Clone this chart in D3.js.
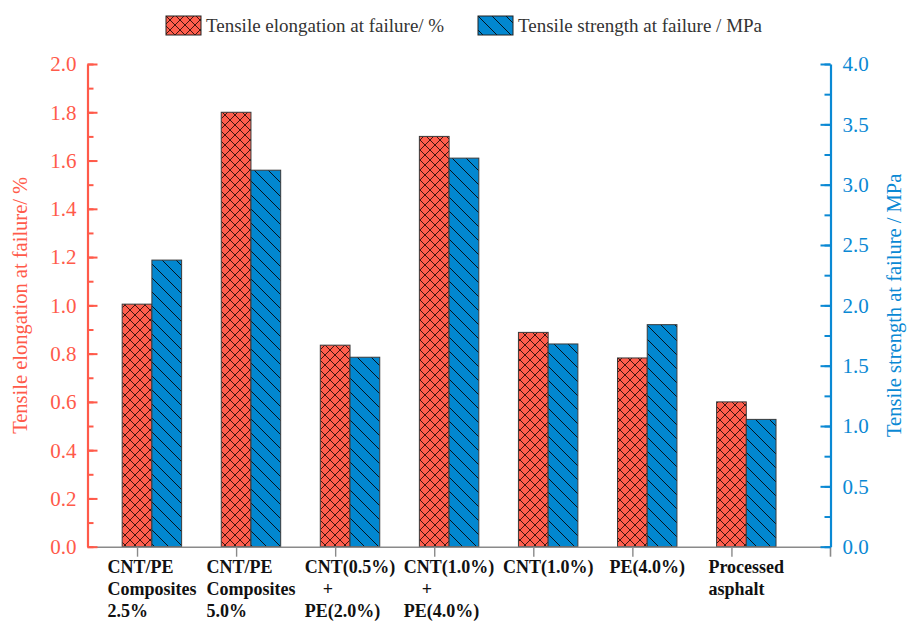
<!DOCTYPE html>
<html>
<head>
<meta charset="utf-8">
<script src="https://cdn.jsdelivr.net/npm/d3@7"></script>
<style>
  body { margin: 0; background: #ffffff; }
  svg text { font-family: "Liberation Serif", "Times New Roman", "DejaVu Serif", serif; }
</style>
</head>
<body>
<svg id="chart" width="907" height="621" font-family="Liberation Serif, Times New Roman, serif"></svg>
<script>
// ---- data ----
const categories = ["CNT/PE 2.5%", "CNT/PE 5.0%", "CNT(0.5%)+PE(2.0%)", "CNT(1.0%)+PE(4.0%)", "CNT(1.0%)", "PE(4.0%)", "Processed asphalt"];
const categoryLabelLines = [
  ["CNT/PE", "Composites", "2.5%"],
  ["CNT/PE", "Composites", "5.0%"],
  ["CNT(0.5%)", "    +", "PE(2.0%)"],
  ["CNT(1.0%)", "    +", "PE(4.0%)"],
  ["CNT(1.0%)"],
  ["PE(4.0%)"],
  ["Processed", "asphalt"]
];
const elongation = [1.005, 1.80, 0.835, 1.70, 0.888, 0.782, 0.60];   // %
const strength   = [2.375, 3.12, 1.57, 3.22, 1.68, 1.84, 1.055];     // MPa
const leftTicks  = [0.0, 0.2, 0.4, 0.6, 0.8, 1.0, 1.2, 1.4, 1.6, 1.8, 2.0];
const rightTicks = [0.0, 0.5, 1.0, 1.5, 2.0, 2.5, 3.0, 3.5, 4.0];
const seriesNames = ["Tensile elongation at failure/ %", "Tensile strength at failure / MPa"];

// ---- styling ----
const FONT = '"Liberation Serif", "Times New Roman", serif';
const RED = "#FF5E4D", RED_AXIS = "#FF5A4A";
const BLUE = "#0287D0", BLUE_AXIS = "#0A89D4";
const GREY = "#8a8a8a";

const svg = d3.select("#chart");
const W = 907, H = 621;
const m = { left: 87.5, right: W - 830.5, top: 64, bottom: H - 546.7 };

// category positions are 1..n; the red bar is centred on the tick, blue sits to its right
const x = d3.scaleLinear().domain([0.5, categories.length + 1]).range([m.left, W - m.right]);
const yL = d3.scaleLinear().domain([0, 2]).range([H - m.bottom, m.top]);
const yR = d3.scaleLinear().domain([0, 4]).range([H - m.bottom, m.top]);
const barW = 0.3; // in category units

// ---- hatch patterns ----
const defs = svg.append("defs");
const cross = defs.append("pattern").attr("id", "crossHatch")
  .attr("patternUnits", "userSpaceOnUse").attr("width", 10).attr("height", 10);
cross.append("rect").attr("width", 10).attr("height", 10).attr("fill", RED);
cross.append("path").attr("d", "M0,0 L10,10 M10,0 L0,10 M-1,9 L1,11 M9,-1 L11,1 M-1,1 L1,-1 M9,11 L11,9")
  .attr("stroke", "#2a0d08").attr("stroke-width", 0.9);
const diag = defs.append("pattern").attr("id", "diagHatch")
  .attr("patternUnits", "userSpaceOnUse").attr("width", 14).attr("height", 14);
diag.append("rect").attr("width", 14).attr("height", 14).attr("fill", BLUE);
diag.append("path").attr("d", "M0,0 L14,14 M-2,12 L2,16 M12,-2 L16,2")
  .attr("stroke", "#06121c").attr("stroke-width", 1);

// ---- bars ----
const idx = d3.range(categories.length);
svg.append("g").selectAll("rect").data(idx).join("rect")
  .attr("x", i => x(i + 1 - barW / 2))
  .attr("width", i => x(i + 1 + barW / 2) - x(i + 1 - barW / 2))
  .attr("y", i => yL(elongation[i]))
  .attr("height", i => yL(0) - yL(elongation[i]))
  .attr("fill", "url(#crossHatch)")
  .attr("stroke", "#3a3a3a").attr("stroke-width", 1);
svg.append("g").selectAll("rect").data(idx).join("rect")
  .attr("x", i => x(i + 1 + barW / 2))
  .attr("width", i => x(i + 1 + 1.5 * barW) - x(i + 1 + barW / 2))
  .attr("y", i => yR(strength[i]))
  .attr("height", i => yR(0) - yR(strength[i]))
  .attr("fill", "url(#diagHatch)")
  .attr("stroke", "#3a3a3a").attr("stroke-width", 1);

// ---- bottom axis ----
const xAxis = svg.append("g").attr("transform", `translate(0,${yL(0)})`)
  .call(d3.axisBottom(x).tickValues(d3.range(1, categories.length + 1)).tickFormat("").tickSize(10).tickSizeOuter(0));
xAxis.select(".domain").attr("stroke", GREY).attr("stroke-width", 1.6);
xAxis.selectAll(".tick line").attr("stroke", GREY).attr("stroke-width", 1.4);
// closing tick at the right end of the axis
xAxis.append("line").attr("x1", x.range()[1]).attr("x2", x.range()[1]).attr("y1", 0).attr("y2", 10)
  .attr("stroke", GREY).attr("stroke-width", 1.6);

// category labels: left-aligned lines, block centred between the two bars
const labelG = svg.append("g").attr("font-weight", "bold").attr("font-size", 18).attr("fill", "#111");
categoryLabelLines.forEach((lines, i) => {
  const g = labelG.append("g");
  const t = g.selectAll("text").data(lines).join("text")
    .attr("y", (d, k) => yL(0) + 26 + k * 22)
    .style("white-space", "pre")
    .style("font-family", FONT)
    .text(d => d);
  let maxW = 0;
  t.each(function () { maxW = Math.max(maxW, this.getComputedTextLength()); });
  g.attr("transform", `translate(${x(i + 1 + barW / 2) - maxW / 2},0)`);
});

// ---- left axis ----
const gl = svg.append("g").attr("transform", `translate(${x.range()[0]},0)`);
gl.call(d3.axisRight(yL).tickValues(d3.range(0, 2.0001, 0.1)).tickSize(6).tickFormat("").tickSizeOuter(0));
gl.call(g => g.selectAll(".tick line").attr("stroke", RED_AXIS).attr("stroke-width", 2));
gl.call(g => g.select(".domain").attr("stroke", RED_AXIS).attr("stroke-width", 2.2));
const glMajor = svg.append("g").attr("transform", `translate(${x.range()[0]},0)`)
  .call(d3.axisRight(yL).tickValues(leftTicks).tickSize(10).tickFormat("").tickSizeOuter(0));
glMajor.select(".domain").remove();
glMajor.selectAll(".tick line").attr("stroke", RED_AXIS).attr("stroke-width", 2);
svg.append("g").selectAll("text").data(leftTicks).join("text")
  .attr("x", x.range()[0] - 11).attr("y", d => yL(d)).attr("dy", "0.35em")
  .attr("text-anchor", "end").attr("font-size", 21).attr("fill", RED_AXIS)
  .style("font-family", FONT)
  .text(d => d3.format(".1f")(d));
svg.append("text")
  .attr("transform", `translate(27,${(yL(0) + yL(2)) / 2}) rotate(-90)`)
  .attr("text-anchor", "middle").attr("font-size", 20.5).attr("fill", RED_AXIS)
  .style("font-family", FONT)
  .text(seriesNames[0]);

// ---- right axis ----
const gr = svg.append("g").attr("transform", `translate(${x.range()[1]},0)`);
gr.call(d3.axisLeft(yR).tickValues(d3.range(0, 4.0001, 0.25)).tickSize(6).tickFormat("").tickSizeOuter(0));
gr.call(g => g.selectAll(".tick line").attr("stroke", BLUE_AXIS).attr("stroke-width", 2));
gr.call(g => g.select(".domain").attr("stroke", BLUE_AXIS).attr("stroke-width", 2.2));
const grMajor = svg.append("g").attr("transform", `translate(${x.range()[1]},0)`)
  .call(d3.axisLeft(yR).tickValues(rightTicks).tickSize(10).tickFormat("").tickSizeOuter(0));
grMajor.select(".domain").remove();
grMajor.selectAll(".tick line").attr("stroke", BLUE_AXIS).attr("stroke-width", 2);
svg.append("g").selectAll("text").data(rightTicks).join("text")
  .attr("x", x.range()[1] + 12).attr("y", d => yR(d)).attr("dy", "0.35em")
  .attr("text-anchor", "start").attr("font-size", 21).attr("fill", BLUE_AXIS)
  .style("font-family", FONT)
  .text(d => d3.format(".1f")(d));
svg.append("text")
  .attr("transform", `translate(901,${(yR(0) + yR(4)) / 2}) rotate(-90)`)
  .attr("text-anchor", "middle").attr("font-size", 20.5).attr("fill", BLUE_AXIS)
  .style("font-family", FONT)
  .text(seriesNames[1]);

// ---- legend ----
const legend = svg.append("g").attr("font-size", 19).attr("fill", "#333");
const legendItems = [
  { name: seriesNames[0], fill: "url(#crossHatch)", x: 166 },
  { name: seriesNames[1], fill: "url(#diagHatch)", x: 478 }
];
legendItems.forEach(it => {
  legend.append("rect").attr("x", it.x).attr("y", 16).attr("width", 35).attr("height", 19)
    .attr("fill", it.fill).attr("stroke", "#222").attr("stroke-width", 1);
  legend.append("text").attr("x", it.x + 40).attr("y", 32)
    .style("font-family", FONT).text(it.name);
});
</script>
</body>
</html>
